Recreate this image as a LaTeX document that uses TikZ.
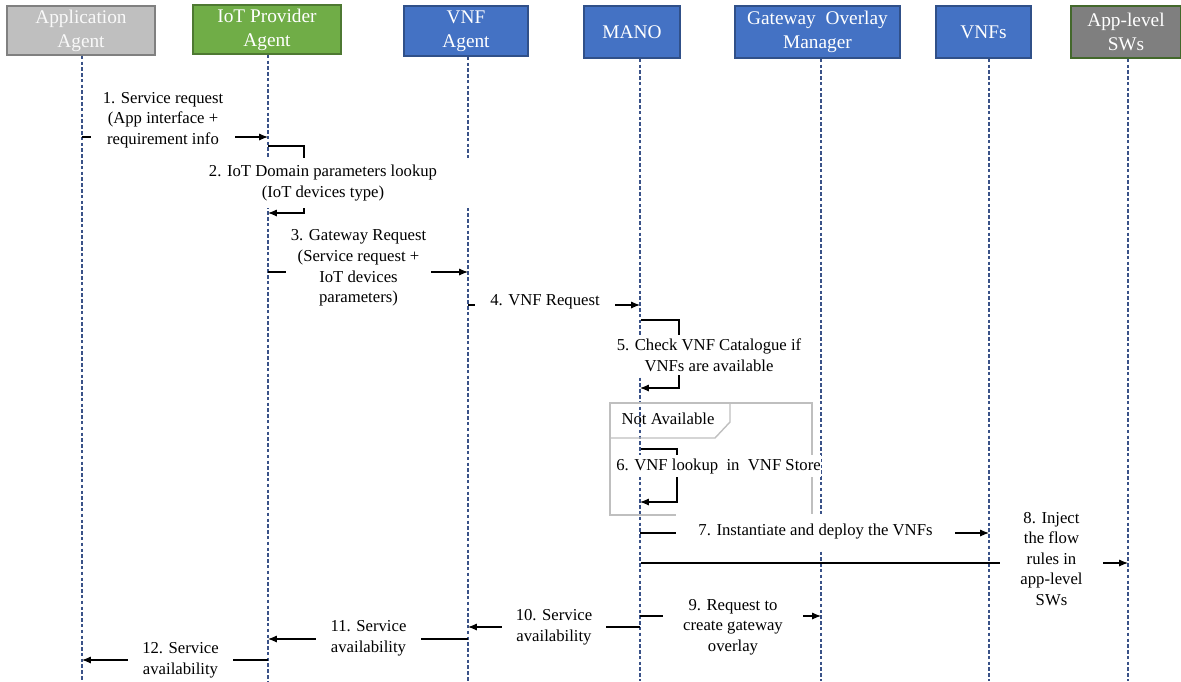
\documentclass[tikz,border=0pt]{standalone}
\usepackage{fontspec}
\setmainfont{Liberation Serif}
\usetikzlibrary{arrows.meta,positioning}
\definecolor{hdgray}{HTML}{BFBFBF}
\definecolor{hdgreen}{HTML}{70AD47}
\definecolor{hdblue}{HTML}{4472C4}
\definecolor{hddark}{HTML}{7F7F7F}
\definecolor{lifeblue}{HTML}{3A5288}

\begin{document}
\begin{tikzpicture}[x=0.02cm,y=-0.02cm]
		\tikzstyle{head} = [rectangle, line width=0.8pt, text=white, align=center, inner sep=0pt, font=\fontsize{11}{13.7}\selectfont]
		\tikzstyle{life} = [draw=lifeblue, line width=0.6pt, dash pattern=on 2pt off 1.3pt]
		\tikzstyle{msg} = [line width=0.6pt, -{Latex[length=5pt,width=4pt]}]
		\tikzstyle{lbl} = [fill=white, align=center, inner xsep=0pt, inner ysep=2pt, font=\fontsize{9.5}{11.7}\selectfont]
		\tikzstyle{fragbox} = [draw=hdgray, line width=0.8pt]
		\useasboundingbox (0,0) rectangle (1181,681);
		\node (app) [head, fill=hdgray, draw=gray, text=white!95!gray, minimum width=2.96cm, minimum height=0.98cm] at (81,30.5) {Application\\Agent};
		\node (iot) [head, fill=hdgreen, draw=hdgreen!70!black, minimum width=2.96cm, minimum height=0.98cm] at (267,29.5) {IoT Provider\\Agent};
		\node (vnfa) [head, fill=hdblue, draw=hdblue!70!black, minimum width=2.48cm, minimum height=1cm] at (466,31) {VNF\\Agent};
		\node (mano) [head, fill=hdblue, draw=hdblue!70!black, minimum width=1.92cm, minimum height=1.04cm] at (632,32) {MANO};
		\node (gom) [head, fill=hdblue, draw=hdblue!70!black, minimum width=3.3cm, minimum height=1.04cm] at (817.5,32) {Gateway~ Overlay\\Manager};
		\node (vnfs) [head, fill=hdblue, draw=hdblue!70!black, minimum width=1.9cm, minimum height=1.04cm] at (983.5,32) {VNFs};
		\node (sws) [head, fill=hddark, draw=hdgreen!60!black, minimum width=2.2cm, minimum height=1.04cm] at (1126,32) {App-level\\SWs};
		\coordinate (lapp) at (82,681);
		\coordinate (liot) at (268,681);
		\coordinate (lvnfa) at (468,681);
		\coordinate (lmano) at (640,681);
		\coordinate (lgom) at (821,681);
		\coordinate (lvnfs) at (989,681);
		\coordinate (lsws) at (1128,681);
		\draw[life] (app.south -| lapp) -- (lapp);
		\draw[life] (iot.south -| liot) -- (liot);
		\draw[life] (vnfa.south -| lvnfa) -- (lvnfa);
		\draw[life] (mano.south -| lmano) -- (lmano);
		\draw[life] (gom.south -| lgom) -- (lgom);
		\draw[life] (vnfs.south -| lvnfs) -- (lvnfs);
		\draw[life] (sws.south -| lsws) -- (lsws);
		\draw[fragbox] (610,403) rectangle (812,515);
		\draw[fragbox] (610,438) -- (715,438) -- (730,422) -- (730,403);
		\draw[msg] (82,137) coordinate (m1a) -- (268,137) coordinate (m1b);
		\draw[msg] (268,146) coordinate (m2a) -- (304,146) -- (304,213) -- (268,213) coordinate (m2b);
		\draw[msg] (268,272) coordinate (m3a) -- (468,272) coordinate (m3b);
		\draw[msg] (468,305) coordinate (m4a) -- (640,305) coordinate (m4b);
		\draw[msg] (641,320) coordinate (m5a) -- (679,320) -- (679,388) -- (640,388) coordinate (m5b);
		\draw[msg] (641,449) coordinate (m6a) -- (677,449) -- (677,502) -- (640,502) coordinate (m6b);
		\draw[msg] (640,533) coordinate (m7a) -- (989,533) coordinate (m7b);
		\draw[msg] (641,563) coordinate (m8a) -- (1128,563) coordinate (m8b);
		\draw[msg] (640,616) coordinate (m9a) -- (821,616) coordinate (m9b);
		\draw[msg] (640,627) coordinate (m10a) -- (468,627) coordinate (m10b);
		\draw[msg] (468,639) coordinate (m11a) -- (268,639) coordinate (m11b);
		\draw[msg] (268,660) coordinate (m12a) -- (82,660) coordinate (m12b);
		\node (t1) [lbl, minimum width=2.88cm] at (163,120) {1. Service request\\(App interface +\\requirement info};
		\node (t2) [lbl, minimum width=6cm, inner ysep=4pt] at (323,183) {2. IoT Domain parameters lookup\\(IoT devices type)};
		\node (t3) [lbl, minimum width=2.9cm] at (358.5,268) {3. Gateway Request\\(Service request +\\IoT devices\\parameters)};
		\node (t4) [lbl, minimum width=2.8cm] at (545,302) {4. VNF Request};
		\node (t5) [lbl, minimum width=3.96cm] at (709,355) {5. Check VNF Catalogue if\\VNFs are available};
		\node (nota) at (668,419) [font=\fontsize{9.5}{11.7}\selectfont] {Not Available};
		\node (t6) [lbl, minimum width=4.06cm] at (718.5,466) {6. VNF lookup~ in~ VNF Store};
		\node (t7) [lbl, minimum width=5.58cm, minimum height=0.7cm] at (815.5,531) {7. Instantiate and deploy the VNFs};
		\node (t8) [lbl, minimum width=2.06cm] at (1051.5,559) {8. Inject\\the flow\\rules in\\app-level\\SWs};
		\node (t9) [lbl, minimum width=2.8cm] at (733,627) {9. Request to\\create gateway\\overlay};
		\node (t10) [lbl, minimum width=2.08cm] at (554,627) {10. Service\\availability};
		\node (t11) [lbl, minimum width=2.1cm] at (368.5,638.5) {11. Service\\availability};
		\node (t12) [lbl, minimum width=2.1cm] at (180.5,660) {12. Service\\availability};
	\end{tikzpicture}
\end{document}
